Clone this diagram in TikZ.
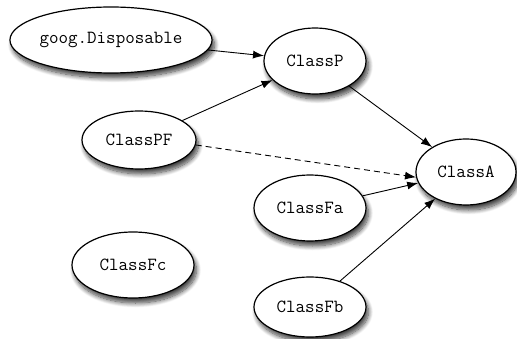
\documentclass[tikz,border=0pt]{standalone}
\usetikzlibrary{shapes.geometric,arrows.meta,shadows.blur}
\begin{document}
\begin{tikzpicture}[x=1pt,y=-1pt,
  cls/.style={ellipse, draw=black, line width=1.2pt, fill=white, inner sep=0pt,
    font=\fontsize{18.5}{21}\selectfont\ttfamily,
    blur shadow={shadow xshift=2.5pt, shadow yshift=-5pt, shadow blur radius=4.5pt,
      shadow blur steps=10, shadow opacity=75}},
  dep/.style={-{Latex[length=11pt,width=8pt]}, line width=0.9pt},
  weak/.style={dep, dash pattern=on 6pt off 4pt}]
\useasboundingbox (0,0) rectangle (517,339);
\node[cls, minimum width=202pt, minimum height=66pt] (disp) at (111,40) {goog.Disposable};
\node[cls, minimum width=102pt, minimum height=66pt] (p) at (315,61) {ClassP};
\node[cls, minimum width=114pt, minimum height=58pt] (pf) at (139,140) {ClassPF};
\node[cls, minimum width=100pt, minimum height=66pt] (a) at (466,172) {ClassA};
\node[cls, minimum width=112pt, minimum height=66pt] (fa) at (310,208) {ClassFa};
\node[cls, minimum width=122pt, minimum height=66pt] (fc) at (133,265) {ClassFc};
\node[cls, minimum width=112pt, minimum height=60pt] (fb) at (310,307) {ClassFb};
\draw[dep] (disp) -- (p);
\draw[dep] (pf) -- (p);
\draw[dep] (p) -- (a);
\draw[weak] (pf.-5) -- (a.186);
\draw[dep] (fa) -- (a);
\draw[dep] (fb) -- (a);
\end{tikzpicture}
\end{document}
